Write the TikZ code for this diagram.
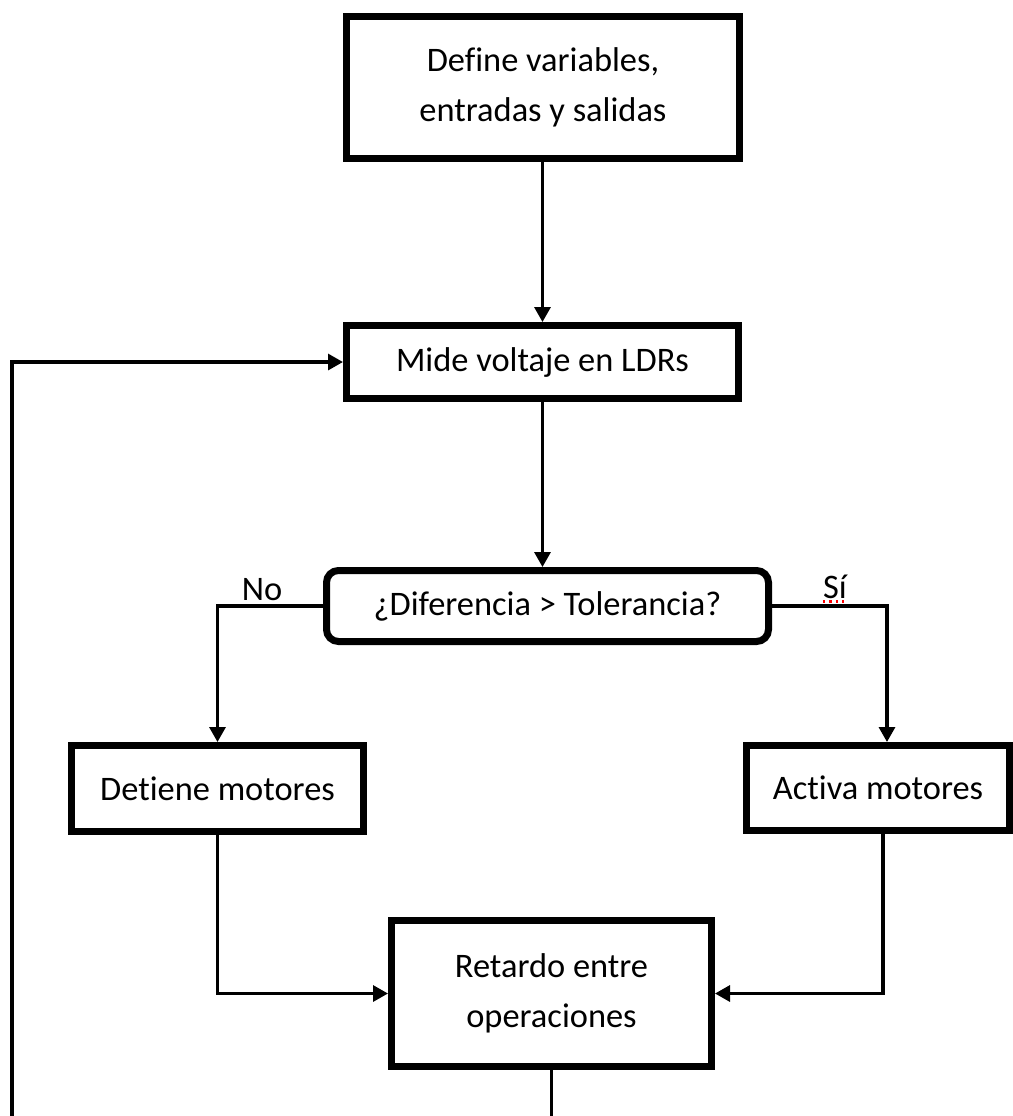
\documentclass[tikz,border=0pt]{standalone}
\usepackage{fontspec}
\setmainfont{Carlito}[Ligatures={NoCommon}]
\usetikzlibrary{arrows.meta}

\begin{document}
\begin{tikzpicture}[x=0.5pt,y=-0.5pt,
  box/.style={draw, line width=3.5pt, align=center, inner sep=0pt, font=\fontsize{17.2}{25}\selectfont},
  decision/.style={box, rounded corners=6pt},
  link/.style={line width=1.6pt, -{Triangle[width=8pt,length=7.5pt]}},
  plain/.style={line width=1.6pt},
  lbl/.style={inner sep=0pt, font=\fontsize{17.2}{20}\selectfont}]
  \useasboundingbox (0,0) rectangle (1013,1116);

  % boxes
  \node[box, minimum width=196.5pt, minimum height=71pt] (define) at (543,87.5) {Define variables,\\entradas y salidas};
  \node[box, minimum width=196pt, minimum height=36.5pt] (mide) at (542.5,362) {Mide voltaje en LDRs};
  \node[decision, minimum width=221pt, minimum height=35.5pt] (dec) at (547.5,606) {¿Diferencia > Tolerancia?};
  \node[box, minimum width=146pt, minimum height=43pt] (detiene) at (217.5,788.5) {Detiene motores};
  \node[box, minimum width=131.5pt, minimum height=42.5pt] (activa) at (878,788) {Activa motores};
  \node[box, minimum width=160pt, minimum height=73pt] (retardo) at (551.5,993.5) {Retardo entre\\operaciones};

  % labels
  \node[lbl] (no) at (262,590) {No};
  \node[lbl] (si) at (835,587) {Sí};

  % connectors
  \draw[link] (define.south -| mide.north) -- (mide.north);
  \draw[link] (mide.south) -- (mide.south |- dec.north);
  \draw[link] (dec.west) -| (detiene.north);
  \draw[link] (dec.east) -| ([xshift=4.5pt]activa.north);
  \draw[link] (detiene.south) |- (retardo.west);
  \draw[link] ([xshift=2.5pt]activa.south) |- (retardo.east);

  % loop back (cut at the lower edge)
  \coordinate (loopR) at (retardo.south |- 0,1116);
  \coordinate (loopL) at (12,1116);
  \draw[plain] (retardo.south) -- (loopR);
  \draw[link] (loopL) |- (mide.west);

  % spell-check mark under the label
  \draw[red, dotted, line width=1.2pt] ([yshift=-1.2pt]si.south west) -- ([yshift=-1.2pt]si.south east);
\end{tikzpicture}
\end{document}
